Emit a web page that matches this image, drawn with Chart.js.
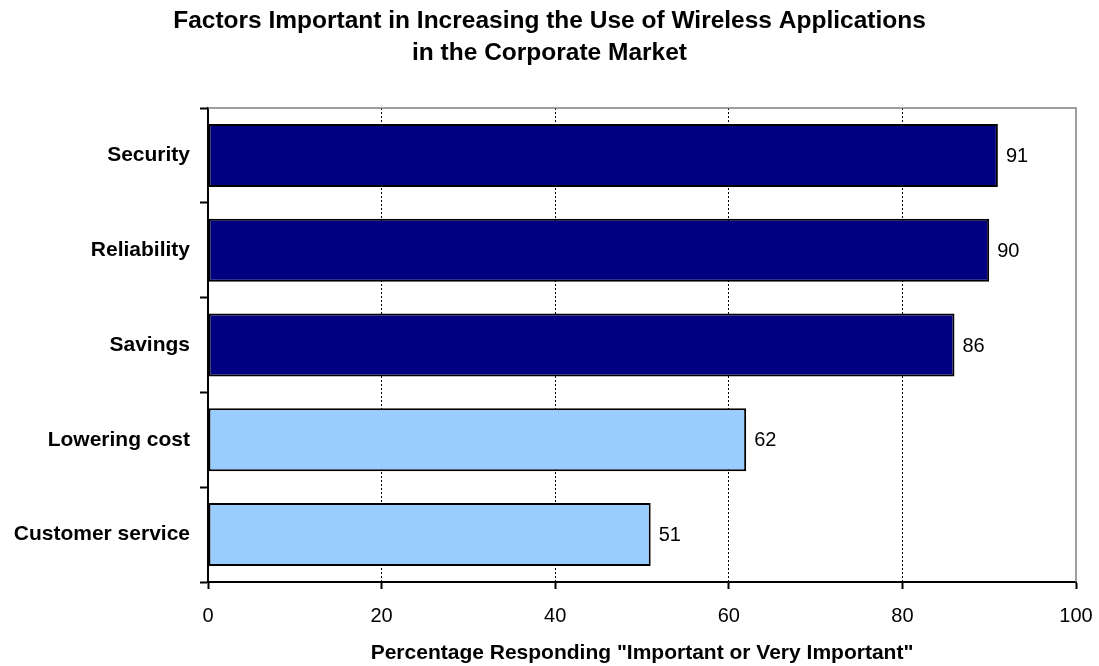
<!DOCTYPE html>
<html>
<head>
<meta charset="utf-8">
<script src="https://cdn.jsdelivr.net/npm/chart.js@4.4.1/dist/chart.umd.min.js"></script>
<style>
  html, body { margin: 0; padding: 0; background: #ffffff; }
  #wrap { width: 1099px; height: 666px; position: relative; }
</style>
</head>
<body>
<div id="wrap"><canvas id="chart" width="1099" height="666"></canvas></div>
<script>
// Survey factors and share of respondents rating each important or very important
const categories = ['Security', 'Reliability', 'Savings', 'Lowering cost', 'Customer service'];
const percentages = [91, 90, 86, 62, 51];
const barColors = ['#000080', '#000080', '#000080', '#99CCFF', '#99CCFF'];
const xTicks = [0, 20, 40, 60, 80, 100];
const titleLines = ['Factors Important in Increasing the Use of Wireless Applications', 'in the Corporate Market'];
const xAxisTitle = 'Percentage Responding "Important or Very Important"';

const FONT = "'Liberation Sans', Arial, Helvetica, sans-serif";

// Chart title, x-axis title, plot frame and value labels
const decorations = {
  id: 'decorations',
  beforeDatasetsDraw(chart) {
    const { ctx, chartArea: a } = chart;
    ctx.save();
    ctx.strokeStyle = '#808080';
    ctx.lineWidth = 1.5;
    ctx.beginPath();
    ctx.moveTo(a.left, a.top);
    ctx.lineTo(a.right, a.top);
    ctx.lineTo(a.right, a.bottom);
    ctx.stroke();
    ctx.restore();
  },
  afterDatasetsDraw(chart) {
    const { ctx } = chart;
    const meta = chart.getDatasetMeta(0);
    ctx.save();
    ctx.fillStyle = '#000';
    ctx.font = '20px ' + FONT;
    ctx.textAlign = 'left';
    ctx.textBaseline = 'middle';
    meta.data.forEach((bar, i) => {
      ctx.fillText(String(percentages[i]), bar.x + 8, bar.y + 1);
    });
    ctx.restore();
  },
  afterDraw(chart) {
    const { ctx, chartArea: a } = chart;
    ctx.save();
    ctx.fillStyle = '#000';
    ctx.textAlign = 'center';
    ctx.textBaseline = 'alphabetic';
    ctx.font = 'bold 24.5px ' + FONT;
    ctx.fillText(titleLines[0], 549.5, 28);
    ctx.fillText(titleLines[1], 549.5, 60);
    ctx.font = 'bold 21px ' + FONT;
    ctx.fillText(xAxisTitle, (a.left + a.right) / 2, 659);
    ctx.restore();
  }
};

new Chart(document.getElementById('chart'), {
  type: 'bar',
  data: {
    labels: categories,
    datasets: [{
      data: percentages,
      backgroundColor: barColors,
      borderColor: '#000000',
      borderWidth: 2,
      borderSkipped: false,
      barPercentage: 0.665,
      categoryPercentage: 1.0
    }]
  },
  options: {
    indexAxis: 'y',
    responsive: false,
    animation: false,
    devicePixelRatio: 1,
    layout: { padding: { top: 108, right: 23, bottom: 0, left: 0 } },
    plugins: {
      legend: { display: false },
      tooltip: { enabled: false },
      title: { display: false }
    },
    scales: {
      x: {
        type: 'linear',
        min: 0,
        max: 100,
        afterBuildTicks(scale) {
          scale.ticks = xTicks.map(v => ({ value: v }));
        },
        afterFit(scale) {
          scale.height = 84;
          scale.paddingLeft = 0;
          scale.paddingRight = 0;
        },
        ticks: {
          color: '#000',
          font: { family: FONT, size: 20 },
          padding: 15,
          maxRotation: 0
        },
        grid: {
          display: true,
          drawOnChartArea: true,
          drawTicks: true,
          tickLength: 7,
          lineWidth: 1,
          color: ctx => (ctx.tick && (ctx.tick.value === 0 || ctx.tick.value === 100)) ? 'rgba(0,0,0,0)' : '#000',
          tickColor: '#000',
          tickWidth: 2
        },
        border: { display: true, color: '#000', width: 2, dash: [2, 2] }
      },
      y: {
        type: 'category',
        afterFit(scale) {
          scale.width = 208;
          scale.paddingTop = 0;
          scale.paddingBottom = 0;
        },
        ticks: {
          color: '#000',
          font: { family: FONT, size: 21, weight: 'bold' },
          padding: 10
        },
        grid: {
          display: true,
          offset: true,
          drawOnChartArea: false,
          drawTicks: true,
          tickLength: 8,
          tickColor: '#000',
          tickWidth: 2
        },
        border: { display: true, color: '#000', width: 2 }
      }
    }
  },
  plugins: [decorations]
});
</script>
</body>
</html>
